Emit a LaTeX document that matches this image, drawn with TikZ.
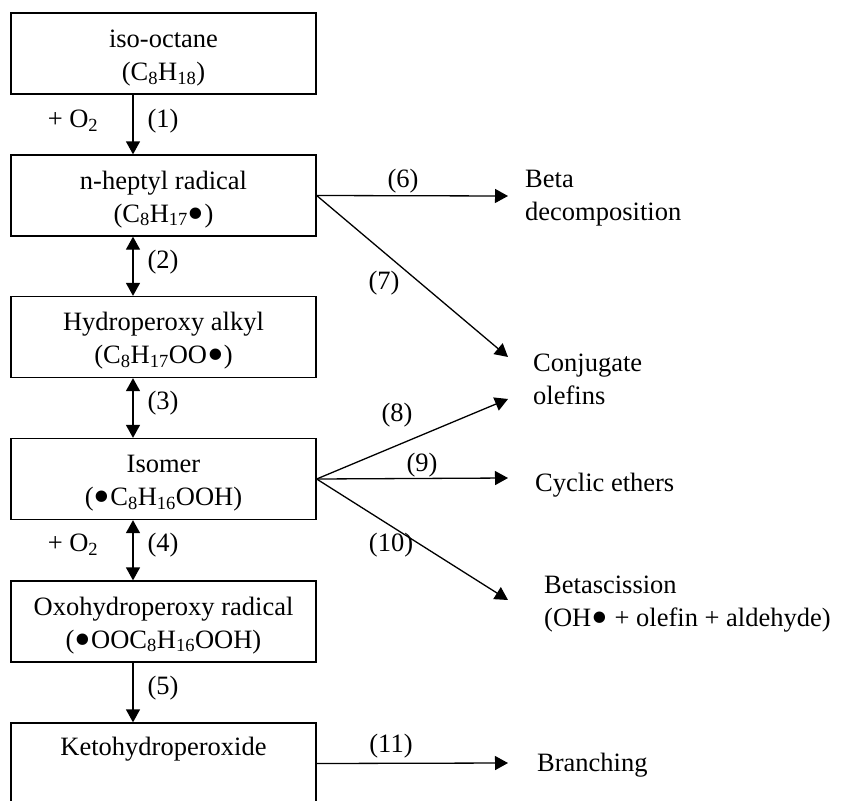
\documentclass[tikz,border=0pt]{standalone}
\usepackage{fontspec}
\setmainfont{Liberation Serif}
\usetikzlibrary{arrows.meta,positioning,calc}
\tikzset{
  flow/.style={-{Triangle[length=13pt,width=14pt]},line width=1.3pt},
  twoway/.style={{Triangle[length=13pt,width=14pt]}-{Triangle[length=13pt,width=14pt]},line width=1.3pt},
  box/.style={draw,line width=1.3pt,minimum width=305pt,minimum height=81pt,inner sep=0pt,align=center},
  product/.style={anchor=west,inner sep=0pt,align=left},
  labeltext/.style={inner sep=0pt}
}
\newcommand{\ct}[1]{\textsubscript{#1}}
\newcommand{\rad}{\raisebox{-7pt}{\scalebox{1.8}{\textbullet}}}
\newcommand{\up}{\rule{0pt}{27pt}}

\begin{document}
\begin{tikzpicture}[x=1pt,y=-1pt,font=\fontsize{26.5}{33}\selectfont]
\useasboundingbox (0,0) rectangle (848,800);
% reaction chain
\node[box] (iso) at (163.5,53.5) {\up iso-octane\\(C\ct{8}H\ct{18})};
\node[box] (hept) at (163.5,195.5) {\up n-heptyl radical\\(C\ct{8}H\ct{17}\rad)};
\node[box] (hyd) at (163.5,337) {\up Hydroperoxy alkyl\\(C\ct{8}H\ct{17}OO\rad)};
\node[box] (isom) at (163.5,479) {\up Isomer\\(\rad C\ct{8}H\ct{16}OOH)};
\node[box] (oxo) at (163.5,621.5) {\up Oxohydroperoxy radical\\(\rad OOC\ct{8}H\ct{16}OOH)};
\node[box] (keto) at (163.5,763.5) {\up Ketohydroperoxide\\\strut};
\coordinate (spine) at (133,0);
\draw[flow] (iso.south -| spine) -- (hept.north -| spine);
\draw[twoway] (hept.south -| spine) -- (hyd.north -| spine);
\draw[twoway] (hyd.south -| spine) -- (isom.north -| spine);
\draw[twoway] (isom.south -| spine) -- (oxo.north -| spine);
\draw[flow] (oxo.south -| spine) -- (keto.north -| spine);
\node[labeltext] (o1) at (73,121) {+ O\ct{2}};
\node[labeltext] (o4) at (73,545) {+ O\ct{2}};
\node[labeltext] (l1) at (163,121) {(1)};
\node[labeltext] (l2) at (163,262) {(2)};
\node[labeltext] (l3) at (163,403) {(3)};
\node[labeltext] (l4) at (163,545) {(4)};
\node[labeltext] (l5) at (163,688) {(5)};
% products
\node[product] (beta) at (525,198) {Beta\\decomposition};
\node[product] (conj) at (533,379) {Conjugate\\olefins};
\node[product] (cyc) at (535,485) {Cyclic ethers};
\node[product] (scis) at (544,605) {Betascission\\(OH\rad{} + olefin + aldehyde)};
\node[product] (branch) at (537,765) {Branching};
\coordinate (t6) at (508,196);
\coordinate (t7) at (508,357);
\coordinate (t8) at (508,399);
\coordinate (t9) at (508,478);
\coordinate (t10) at (508,600);
\coordinate (t11) at (508,763);
\draw[flow] (hept.east) -- (t6);
\draw[flow] (hept.east) -- (t7);
\draw[flow] (isom.east) -- (t8);
\draw[flow] (isom.east) -- (t9);
\draw[flow] (isom.east) -- (t10);
\draw[flow] (keto.east) -- (t11);
\node[labeltext] (l6) at (403,181) {(6)};
\node[labeltext] (l7) at (384,283) {(7)};
\node[labeltext] (l8) at (397,415) {(8)};
\node[labeltext] (l9) at (422,465) {(9)};
\node[labeltext] (l10) at (391,545) {(10)};
\node[labeltext] (l11) at (391,746) {(11)};
\end{tikzpicture}
\end{document}
